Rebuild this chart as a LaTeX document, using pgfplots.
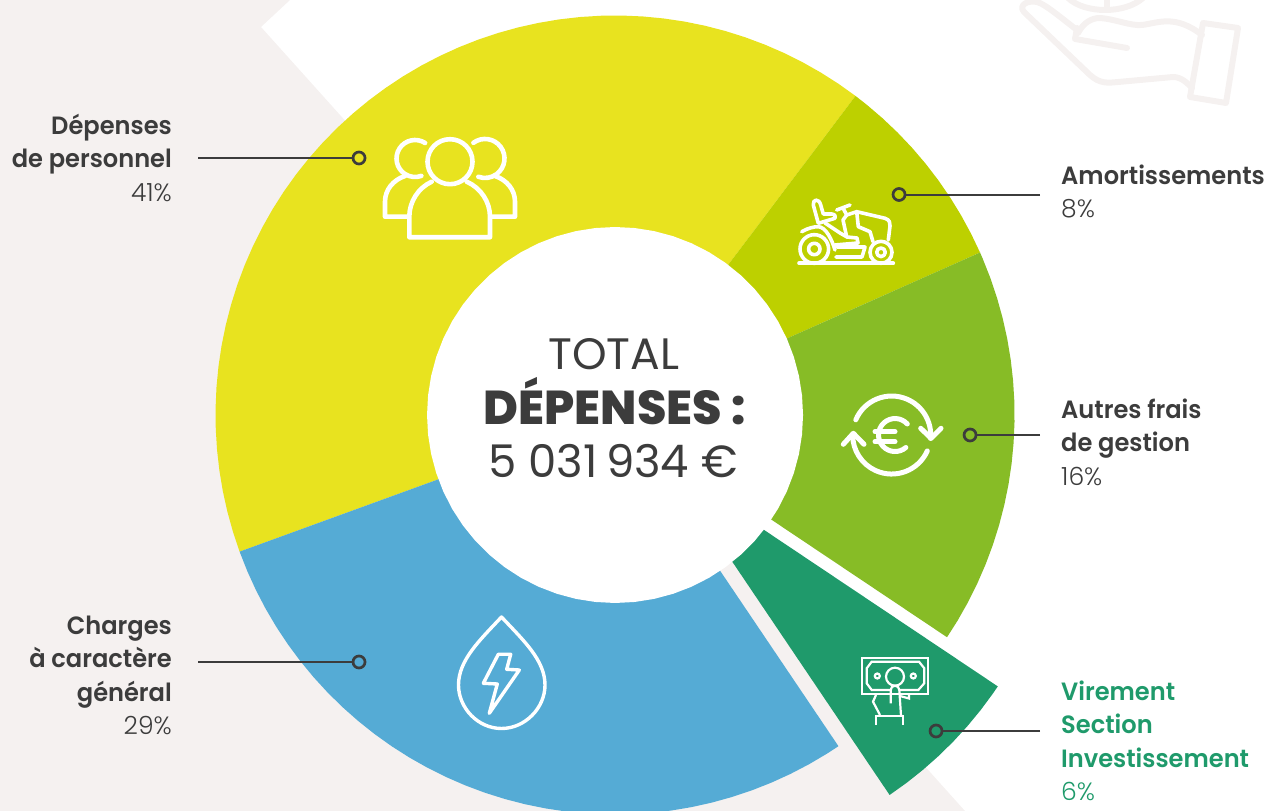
\documentclass[border=0pt]{standalone}
\usepackage{pgfplots}
\pgfplotsset{compat=1.18}
\usepgfplotslibrary{polar}
\usepackage{fontspec}
\setmainfont{Poppins}
\newfontfamily\lab[FakeStretch=0.965]{Poppins SemiBold}
\newfontfamily\lgt{Poppins Light}
\newfontfamily\hvy{Poppins ExtraBold}
\definecolor{cyel}{HTML}{E8E31F}
\definecolor{coli}{HTML}{BDD000}
\definecolor{cgrn}{HTML}{87BC26}
\definecolor{cblu}{HTML}{55ABD5}
\definecolor{cdrk}{HTML}{1F9A6B}
\definecolor{cbg}{HTML}{F5F1F0}
\definecolor{ctxt}{HTML}{3C3C3C}
\begin{document}
\begin{tikzpicture}
\clip (0pt,0pt) rectangle (1269pt,811pt);
\begin{scope}[shift={(0pt,811pt)},x=1pt,y=-1pt]
\fill[cbg] (0,0) -- (290,0) -- (261,27) -- (965,811) -- (0,811) -- cycle;
\begin{scope}[draw=cbg,line width=6pt,line cap=round,line join=round]
\draw (1077,30) .. controls (1060,17) and (1045,4) .. (1037,2) .. controls (1028,0) and (1018,5) .. (1024,12) -- (1090,75) .. controls (1100,84) and (1108,83) .. (1118,82) -- (1173,77) .. controls (1182,77) and (1188,84) .. (1192,88);
\draw (1078,33) .. controls (1084,22) and (1092,18) .. (1100,18) .. controls (1115,19) and (1130,26) .. (1142,25) .. controls (1158,23) and (1175,14) .. (1202,35);
\draw (1077,28) -- (1075,39) -- (1127,48);
\draw (1203,23) -- (1238,28) -- (1226,103) -- (1190,97) -- cycle;
\draw (1068,-2) .. controls (1085,14) and (1125,14) .. (1143,-2);
\draw (1107,0) -- (1107,9);
\end{scope}
\end{scope}
\begin{axis}[at={(0pt,0pt)},anchor=south west,width=1269pt,height=811pt,scale only axis,hide axis,
  xmin=-615,xmax=654,ymin=-396,ymax=415,clip=true]
% sectors in polar data: (angle, radius)
\addplot[data cs=polar,fill=cyel,draw=none] coordinates {(0,0)
(53,399.5)(56,399.5)(59,399.5)(62,399.5)(65,399.5)(68,399.5)(71,399.5)(74,399.5)(77,399.5)(80,399.5)
(83,399.5)(86,399.5)(89,399.5)(92,399.5)(95,399.5)(98,399.5)(101,399.5)(104,399.5)(107,399.5)(110,399.5)
(113,399.5)(116,399.5)(119,399.5)(122,399.5)(125,399.5)(128,399.5)(131,399.5)(134,399.5)(137,399.5)(140,399.5)
(143,399.5)(146,399.5)(149,399.5)(152,399.5)(155,399.5)(158,399.5)(161,399.5)(164,399.5)(167,399.5)(170,399.5)
(173,399.5)(176,399.5)(179,399.5)(182,399.5)(185,399.5)(188,399.5)(191,399.5)(194,399.5)(197,399.5)(200,399.5)};
\addplot[data cs=polar,fill=coli,draw=none] coordinates {(0,0)
(24,399.5)(27,399.5)(30,399.5)(33,399.5)(36,399.5)(39,399.5)(42,399.5)(45,399.5)(48,399.5)(51,399.5)(53,399.5)};
\addplot[data cs=polar,fill=cgrn,draw=none] coordinates {(0,0)
(-33.8,399.5)(-31,399.5)(-28,399.5)(-25,399.5)(-22,399.5)(-19,399.5)(-16,399.5)(-13,399.5)(-10,399.5)(-7,399.5)(-4,399.5)(-1,399.5)
(2,399.5)(5,399.5)(8,399.5)(11,399.5)(14,399.5)(17,399.5)(20,399.5)(23,399.5)(24,399.5)};
\addplot[data cs=polar,fill=cblu,draw=none] coordinates {(0,0)
(200,399.5)(203,399.5)(206,399.5)(209,399.5)(212,399.5)(215,399.5)(218,399.5)(221,399.5)(224,399.5)(227,399.5)
(230,399.5)(233,399.5)(236,399.5)(239,399.5)(242,399.5)(245,399.5)(248,399.5)(251,399.5)(254,399.5)(257,399.5)
(260,399.5)(263,399.5)(266,399.5)(269,399.5)(272,399.5)(275,399.5)(278,399.5)(281,399.5)(284,399.5)(287,399.5)
(290,399.5)(293,399.5)(296,399.5)(299,399.5)(302,399.5)(304,399.5)};
\addplot[data cs=polar,fill=cdrk,draw=none,xshift=52pt,yshift=-50pt] coordinates {(0,0)
(-56,398)(-53,398)(-50,398)(-47,398)(-44,398)(-41,398)(-38,398)(-35,398)(-33.8,398)};
% centre hole
\addplot[data cs=polar,fill=white,draw=none] coordinates {
(0,188)(6,188)(12,188)(18,188)(24,188)(30,188)(36,188)(42,188)(48,188)(54,188)(60,188)(66,188)(72,188)(78,188)(84,188)
(90,188)(96,188)(102,188)(108,188)(114,188)(120,188)(126,188)(132,188)(138,188)(144,188)(150,188)(156,188)(162,188)(168,188)(174,188)
(180,188)(186,188)(192,188)(198,188)(204,188)(210,188)(216,188)(222,188)(228,188)(234,188)(240,188)(246,188)(252,188)(258,188)(264,188)
(270,188)(276,188)(282,188)(288,188)(294,188)(300,188)(306,188)(312,188)(318,188)(324,188)(330,188)(336,188)(342,188)(348,188)(354,188)};
% leaders
\pgfplotsset{dot/.style={only marks,mark=o,mark size=6pt,mark options={ctxt,line width=2.7pt,fill=none}}}
\addplot[ctxt,line width=2.8pt] coordinates {(-417,257)(-262,257)};
\addplot[dot] coordinates {(-256,257)};
\addplot[ctxt,line width=2.8pt] coordinates {(425,220)(290,220)};
\addplot[dot] coordinates {(284,220.5)};
\addplot[ctxt,line width=2.8pt] coordinates {(425,-20)(361,-20)};
\addplot[dot] coordinates {(355,-20)};
\addplot[ctxt,line width=2.8pt] coordinates {(-417,-247)(-262,-247)};
\addplot[dot] coordinates {(-256,-247)};
\addplot[ctxt,line width=2.8pt] coordinates {(425,-316)(327,-316)};
\addplot[dot] coordinates {(321,-316)};
\end{axis}
\begin{scope}[shift={(0pt,811pt)},x=1pt,y=-1pt]
% people
\begin{scope}[draw=white,line width=4.6pt,line cap=round,line join=round]
\draw (450,161.7) circle (22.5);
\draw (431.7,181.7) .. controls (418,188) and (409.3,202) .. (409.3,216.7) -- (409.3,237.3) -- (490,237.3) -- (490,216.7) .. controls (490,202) and (481,188) .. (466.7,181.7);
\draw (425.1,143) arc (-57:-290:18.5);
\draw (405,176) .. controls (393,180) and (385,190) .. (385,201.7) -- (385,216.7) -- (408,216.7);
\draw (473.4,142.8) arc (-126.5:110:19.5);
\draw (495,176) .. controls (507,180) and (515,190) .. (515,201.7) -- (515,216.7) -- (491,216.7);
\end{scope}
% mower
\begin{scope}[draw=white,line width=3.6pt,line cap=round,line join=round]
\draw (799,263.3) -- (893.3,263.3);
\draw (814.3,249) circle (14.3);
\draw (814.3,249) circle (5.7);
\draw (881,252.3) circle (11);
\draw (881,252.3) circle (4.3);
\draw (818.3,223.3) -- (813.3,205) .. controls (812.5,199) and (819,198) .. (820.7,205) -- (823.3,214) -- (831.7,214) .. controls (835,214) and (836,217) .. (835,218.3) -- (818.3,223.3);
\draw (801.7,231.7) .. controls (808,228) and (814,226.7) .. (818.3,226.7) .. controls (826,227) and (832,240) .. (835,250);
\draw (825,223) -- (840,233) -- (847,237) -- (857,238) -- (858,243) -- (835,245);
\draw (837,247) -- (865,247) -- (862,257) -- (836,257);
\draw (836.7,210) -- (850,205);
\draw (843,208) -- (846.7,215) -- (843,220) -- (846.7,237);
\draw (846.7,215) -- (856.7,211.7) -- (885,218.3) .. controls (890,220) and (890,223) .. (890,226) -- (888.3,240);
\draw (856.7,211.7) -- (858.3,226.7) -- (870,231.7) -- (873,241.7);
\end{scope}
% euro
\begin{scope}[draw=white,line width=5pt,line cap=round,line join=round]
\draw (855.8,419.8) arc (-157:5:39);
\draw (920.7,428.3) -- (931,438.3) -- (941,428.3);
\draw (927.3,450.9) arc (24:180:39);
\draw (843.3,444.3) -- (853.3,433.3) -- (864,444.3);
\draw (907.3,424) arc (-42:-311:16.5);
\draw (875,431.7) -- (895,431.7);
\draw (875,441.7) -- (895,441.7);
\end{scope}
% drop
\begin{scope}[draw=white,line width=3.4pt,line cap=round,line join=round]
\draw (501.5,617) .. controls (480,640) and (458.5,660) .. (458.5,685) .. controls (458.5,708) and (478,728.5) .. (501.5,728.5) .. controls (525,728.5) and (545,708) .. (545,685) .. controls (545,660) and (523,640) .. cycle;
\draw (498.3,654.3) -- (510.7,654.3) -- (506.7,669.3) -- (519.3,670) -- (489.3,713.3) -- (497.3,684) -- (483.3,683.3) -- cycle;
\end{scope}
% bill
\begin{scope}[draw=white,line width=2.2pt,line cap=butt,line join=miter]
\draw (861.7,658.3) rectangle (928.3,694.3);
\draw (890.7,690) -- (871.7,690) -- (866.7,683.3) -- (866.7,668.3) -- (871.7,661.7) -- (919,661.7) -- (924.3,668.3) -- (924.3,683.3) -- (918.3,690) -- (899.5,690);
\draw (895,676.7) circle (9);
\draw (877.3,676) circle (2.5);
\draw (913.3,676) circle (2.5);
\draw (890.7,703.3) -- (890.7,690) arc (180:360:4.3) -- (901,715.7);
\draw (876,695) -- (873,701.7) -- (880,715);
\draw (876,725) -- (876,715.7) -- (903.3,715.7) -- (903.3,725);
\draw (900,696) -- (909,698.5) -- (909,695);
\end{scope}
% labels
\begin{scope}[every node/.style={inner sep=0pt,text=ctxt,font=\fontsize{25}{30}\selectfont}]
\node[anchor=base east] at (172,135) {\lab Dépenses};
\node[anchor=base east] at (172,168) {\lab de personnel};
\node[anchor=base east] at (172,202) {\lgt 41\%};
\node[anchor=base east] at (172,635) {\lab Charges};
\node[anchor=base east] at (172,668) {\lab à caractère};
\node[anchor=base east] at (172,702) {\lab général};
\node[anchor=base east] at (172,735) {\lgt 29\%};
\node[anchor=base west] at (1061,185) {\lab Amortissements};
\node[anchor=base west] at (1061,218) {\lgt 8\%};
\node[anchor=base west] at (1061,419) {\lab Autres frais};
\node[anchor=base west] at (1061,452) {\lab de gestion};
\node[anchor=base west] at (1061,486) {\lgt 16\%};
\node[anchor=base west,text=cdrk] at (1061,701) {\lab Virement};
\node[anchor=base west,text=cdrk] at (1061,734) {\lab Section};
\node[anchor=base west,text=cdrk] at (1061,768) {\lab Investissement};
\node[anchor=base west,text=cdrk] at (1061,801) {\lgt 6\%};
\node[anchor=base,font=\fontsize{44}{50}\selectfont] at (614,370) {TOTAL};
\node[anchor=base,font=\fontsize{47.5}{50}\selectfont] at (614.5,425) {\hvy DÉPENSES :};
\node[anchor=base,font=\fontsize{45}{50}\selectfont] at (613,478) {5 031\hspace{-0.08em} 934 €};
\end{scope}
\end{scope}
\end{tikzpicture}
\end{document}
